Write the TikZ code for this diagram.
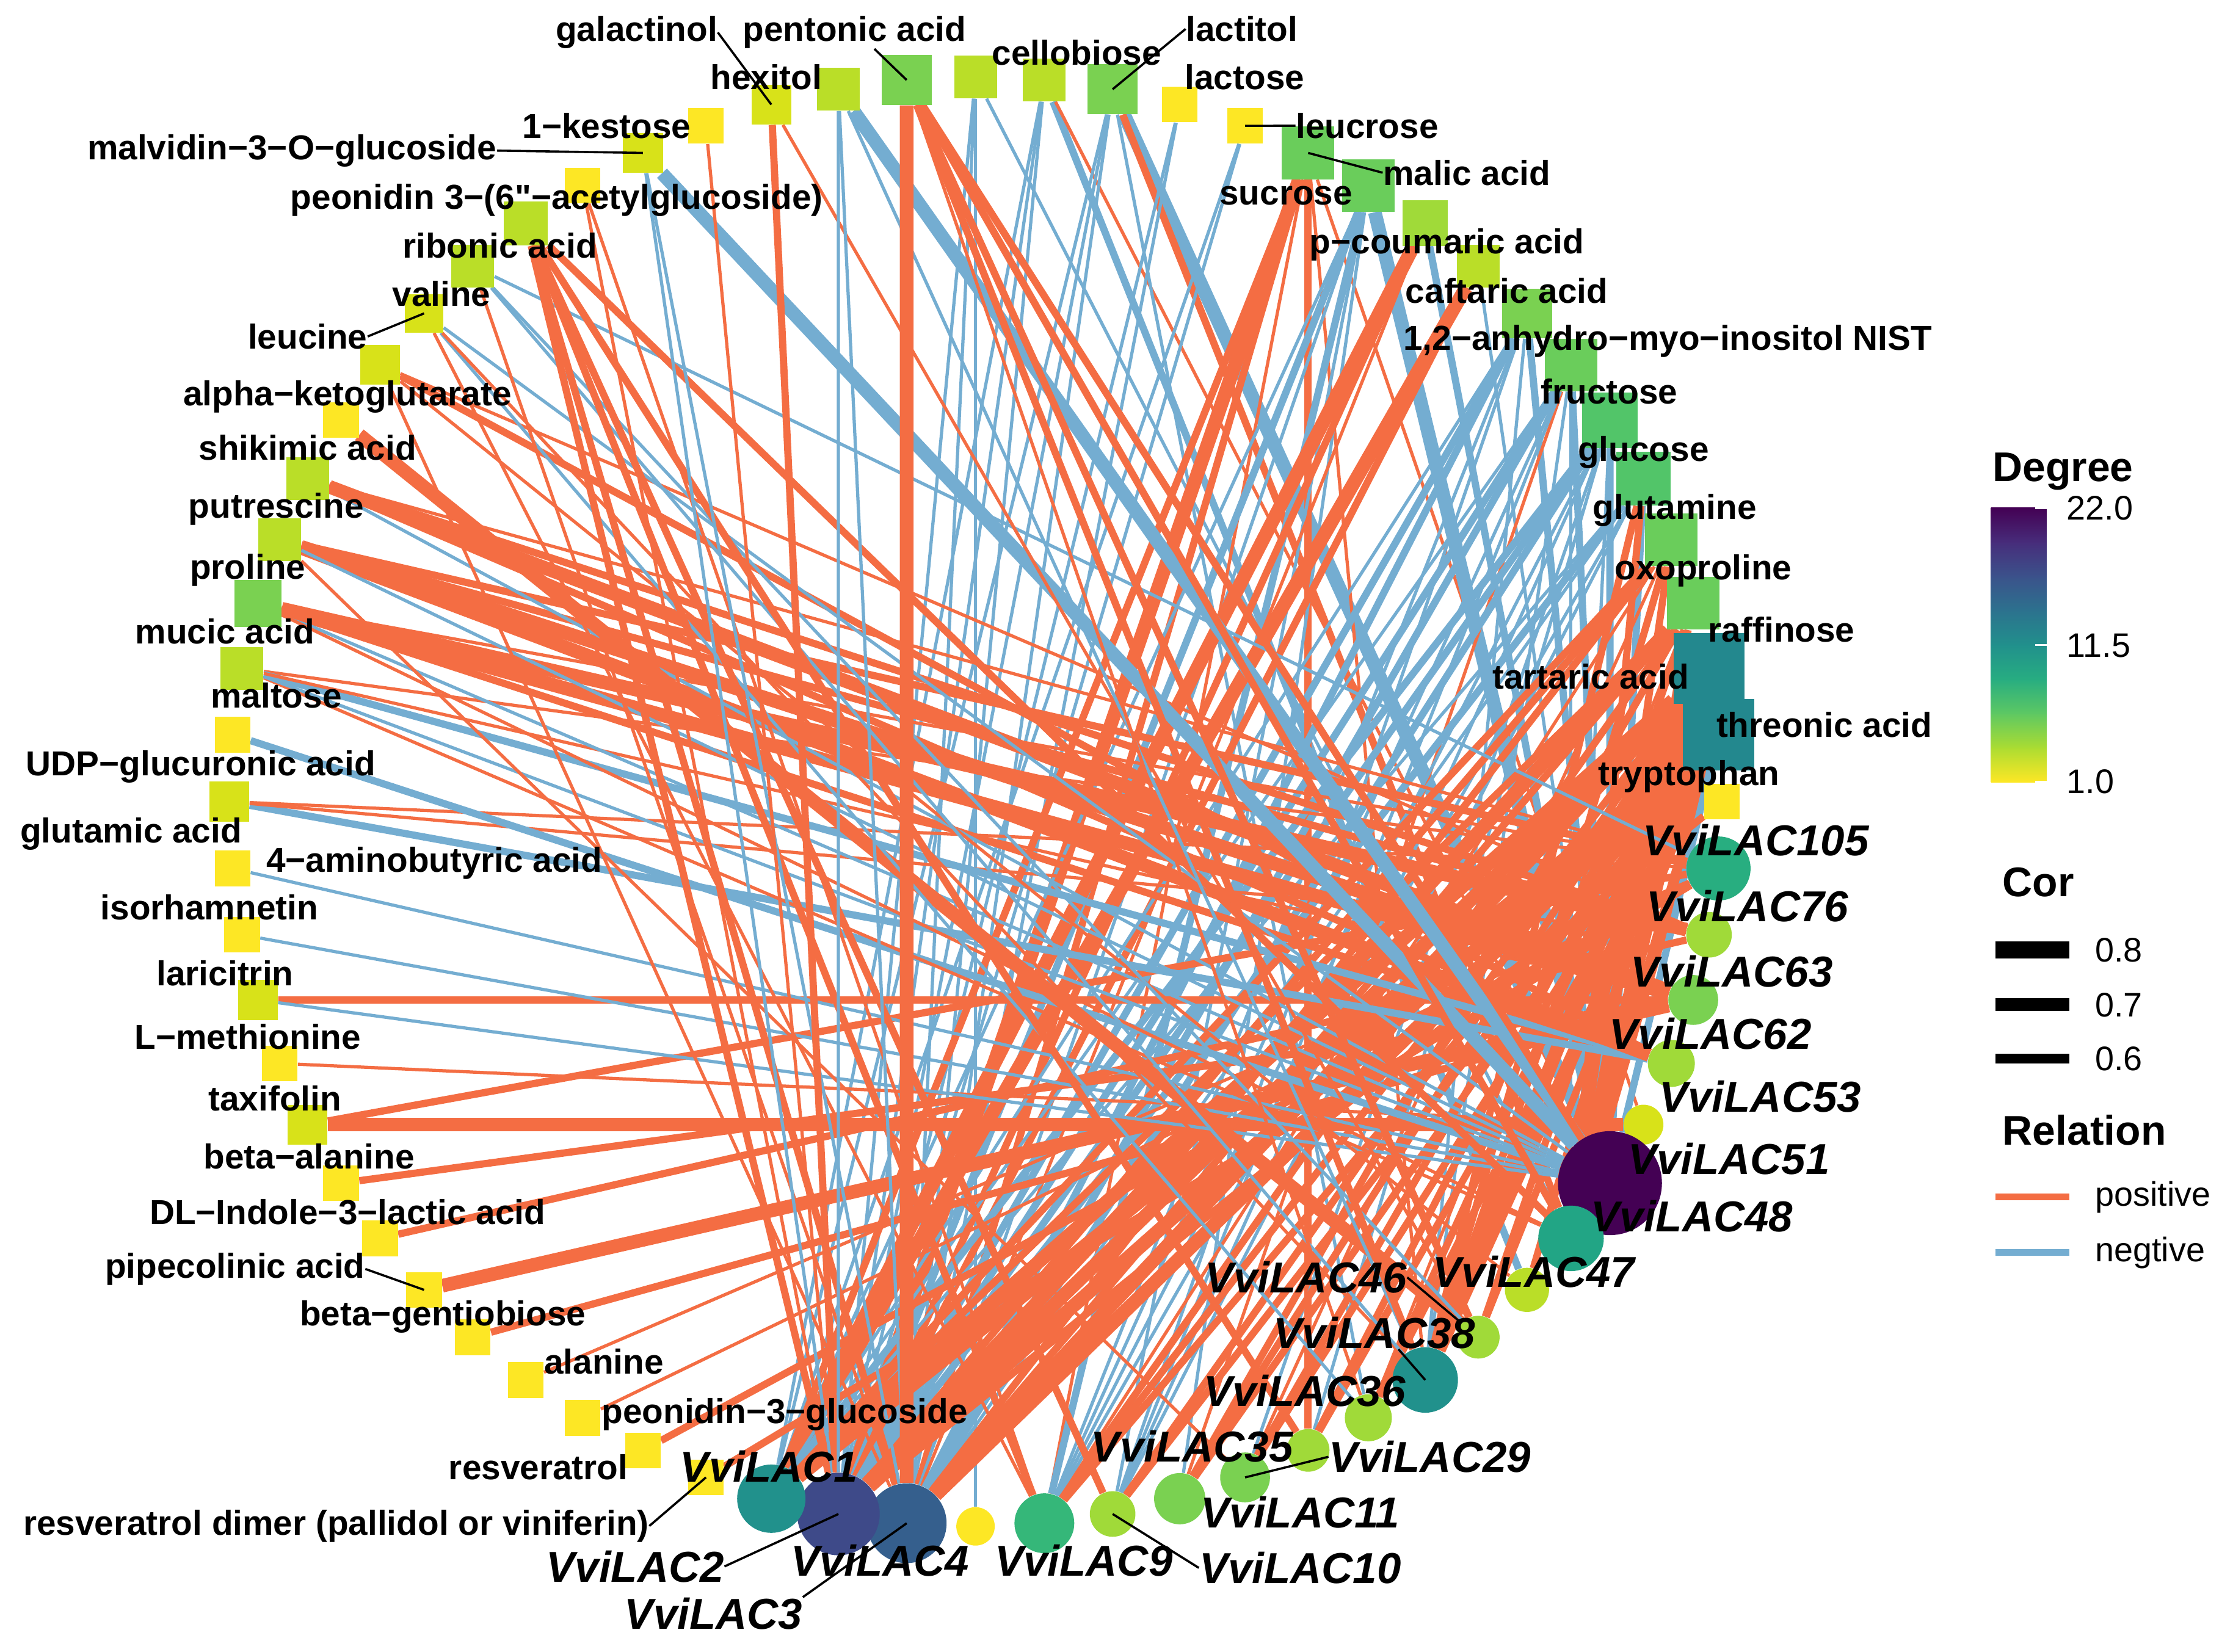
\documentclass[tikz,border=0pt]{standalone}
\usepackage{fontspec}
\setmainfont{Liberation Sans}[Ligatures=TeXOff]
\usetikzlibrary{calc}
\pgfdeclarelayer{bglayer}
\pgfdeclarelayer{edgelayer}
\pgfsetlayers{bglayer,edgelayer,main}
\definecolor{cPos}{HTML}{F46D43}
\definecolor{cNeg}{HTML}{74ADD1}
\definecolor{cY1}{HTML}{FDE725}
\definecolor{cY2}{HTML}{D8E219}
\definecolor{cY3}{HTML}{BADE28}
\definecolor{cY4}{HTML}{A0DA39}
\definecolor{cG5}{HTML}{7AD151}
\definecolor{cG6}{HTML}{6ACD5B}
\definecolor{cG7}{HTML}{52C569}
\definecolor{cG9}{HTML}{35B779}
\definecolor{cT10}{HTML}{28AE80}
\definecolor{cT12}{HTML}{22A585}
\definecolor{cT1}{HTML}{21918C}
\definecolor{cTa}{HTML}{23888E}
\definecolor{cB3}{HTML}{355F8D}
\definecolor{cB2}{HTML}{3E4A89}
\definecolor{cP}{HTML}{440154}
\definecolor{v0}{HTML}{FDE725}
\definecolor{v1}{HTML}{AADC32}
\definecolor{v2}{HTML}{5DC863}
\definecolor{v3}{HTML}{27AD81}
\definecolor{v4}{HTML}{21908C}
\definecolor{v5}{HTML}{2C728E}
\definecolor{v6}{HTML}{3B528B}
\definecolor{v7}{HTML}{472D7B}
\definecolor{v8}{HTML}{440154}
\tikzset{
  msq/.style={rectangle,inner sep=0pt,draw=none},
  gci/.style={circle,inner sep=0pt,draw=none},
  ePt/.style={cPos,line width=1.6pt},
  ePm/.style={cPos,line width=3.6pt},
  ePk/.style={cPos,line width=6.8pt},
  eNt/.style={cNeg,line width=1.6pt},
  eNm/.style={cNeg,line width=3.6pt},
  eNk/.style={cNeg,line width=6.8pt},
  mlab/.style={anchor=base,inner sep=0pt,font=\fontsize{17.3}{20}\selectfont\bfseries},
  glab/.style={anchor=base,inner sep=0pt,font=\fontsize{21.6}{26}\selectfont\bfseries\itshape},
  leader/.style={black,line width=1.1pt},
  legtitle/.style={anchor=base west,inner sep=0pt,font=\fontsize{20.7}{24}\selectfont\bfseries},
  legtext/.style={anchor=base west,inner sep=0pt,font=\fontsize{17}{20}\selectfont},
}
\begin{document}
\begin{tikzpicture}[x=0.025cm,y=-0.025cm]
\begin{pgfonlayer}{bglayer}
\fill[white] (0,0) rectangle (1568,1160);
\end{pgfonlayer}
\useasboundingbox (0,0) rectangle (1568,1160);

% ---------- nodes on the ellipse ----------
\foreach \nm/\fc/\sz/\sh [count=\i from 0] in {
 m00/cY3/30/msq, cellobiose/cY3/30/msq, lactitol/cG5/35/msq, lactose/cY1/25/msq,
 leucrose/cY1/25/msq, malic/cG6/37/msq, sucrose/cG6/37/msq, pcoumaric/cY4/32/msq,
 caftaric/cY3/30/msq, anhydro/cG5/35/msq, fructose/cG6/37/msq, glucose/cG7/39/msq,
 glutamine/cG7/38/msq, oxoproline/cG6/37/msq, raffinose/cG6/37/msq, tartaric/cTa/50/msq,
 threonic/cTa/50/msq, tryptophan/cY1/25/msq,
 LAC105/cT10/45/gci, LAC76/cY4/32/gci, LAC63/cG5/35/gci, LAC62/cY4/33/gci,
 LAC53/cY2/28/gci, LAC51/cP/73/gci, LAC48/cT12/46/gci, LAC47/cY3/31/gci,
 LAC46/cY4/30/gci, LAC38/cT1/46/gci, LAC36/cY4/33/gci, LAC11/cY4/30/gci,
 LAC29/cG5/35/gci, LAC35/cG5/36/gci, LAC10/cY4/32/gci, LAC9/cG9/42/gci,
 LAC4/cY1/27/gci, LAC3/cB3/56/gci, LAC2/cB2/58/gci, LAC1/cT1/48/gci,
 resvdimer/cY1/25/msq, resveratrol/cY1/25/msq, peonidinG/cY1/25/msq, alanine/cY1/25/msq,
 gentiobiose/cY1/25/msq, pipecolinic/cY1/25/msq, DLindole/cY1/25/msq, betaalanine/cY1/25/msq,
 taxifolin/cY2/28/msq, Lmethionine/cY1/25/msq, laricitrin/cY2/28/msq, isorhamnetin/cY1/25/msq,
 aminobutyric/cY1/25/msq, glutamic/cY2/28/msq, UDP/cY1/25/msq, maltose/cY3/30/msq,
 mucic/cG5/33/msq, proline/cY3/30/msq, putrescine/cY3/30/msq, shikimic/cY1/25/msq,
 alphaKG/cY2/28/msq, leucine/cY2/27/msq, valine/cY3/30/msq, ribonic/cY3/31/msq,
 peonidinAc/cY1/25/msq, malvidin/cY2/28/msq, kestose/cY1/25/msq, galactinol/cY2/28/msq,
 hexitol/cY3/30/msq, pentonic/cG5/35/msq}
{
  \node[\sh,fill=\fc,minimum size={\sz*0.025cm}] (\nm)
    at ({685+524*cos(90-\i*5.294118)},{563-509*sin(90-\i*5.294118)}) {};
}

% ---------- edges ----------
\begin{pgfonlayer}{edgelayer}
\foreach \a/\b/\s in {
 m00/LAC4/eNt, m00/LAC48/eNt, m00/LAC3/eNt, m00/LAC2/eNt,
 cellobiose/LAC2/eNt, cellobiose/LAC47/eNm, cellobiose/LAC51/ePt, cellobiose/LAC3/eNt, cellobiose/LAC1/eNt,
 lactitol/LAC2/eNt, lactitol/LAC3/eNt, lactitol/LAC36/eNt, lactitol/LAC51/eNk, lactitol/LAC48/ePm, lactitol/LAC1/eNt,
 lactose/LAC3/eNt, lactose/LAC2/eNt, leucrose/LAC1/eNt, leucrose/LAC2/eNt,
 malic/LAC2/ePk, malic/LAC3/ePm, malic/LAC11/ePm, malic/LAC53/ePt, malic/LAC1/ePm, malic/LAC9/ePt, malic/LAC38/ePt,
 sucrose/LAC51/eNk, sucrose/LAC9/eNm, sucrose/LAC1/eNt, sucrose/LAC2/eNm, sucrose/LAC10/eNt, sucrose/LAC3/eNt, sucrose/LAC35/eNt,
 pcoumaric/LAC1/ePk, pcoumaric/LAC2/ePm, pcoumaric/LAC51/eNm, pcoumaric/LAC3/ePt,
 caftaric/LAC1/ePk, caftaric/LAC2/ePm, caftaric/LAC51/eNt,
 anhydro/LAC51/eNm, anhydro/LAC2/eNm, anhydro/LAC3/eNm, anhydro/LAC1/eNt, anhydro/LAC9/eNt, anhydro/LAC38/eNt, anhydro/LAC10/eNt,
 fructose/LAC51/eNm, fructose/LAC2/eNm, fructose/LAC3/eNm, fructose/LAC1/eNt, fructose/LAC9/eNt, fructose/LAC38/eNt, fructose/LAC48/eNt, fructose/LAC35/ePt, fructose/LAC10/eNt,
 glucose/LAC51/eNm, glucose/LAC2/eNm, glucose/LAC3/eNm, glucose/LAC1/eNm, glucose/LAC9/eNt, glucose/LAC10/eNt, glucose/LAC48/eNt, glucose/LAC29/eNt, glucose/LAC11/eNt,
 glutamine/LAC51/eNm, glutamine/LAC2/eNm, glutamine/LAC3/eNt, glutamine/LAC1/eNt, glutamine/LAC38/ePm, glutamine/LAC48/ePm, glutamine/LAC9/eNt, glutamine/LAC10/eNt,
 oxoproline/LAC2/ePm, oxoproline/LAC3/ePm, oxoproline/LAC1/ePm, oxoproline/LAC38/ePm, oxoproline/LAC48/ePm, oxoproline/LAC9/ePt, oxoproline/LAC29/ePt,
 raffinose/LAC2/ePk, raffinose/LAC3/ePm, raffinose/LAC1/ePm, raffinose/LAC9/ePm, raffinose/LAC38/ePm, raffinose/LAC36/ePt, raffinose/LAC48/ePm, raffinose/LAC35/ePm,
 tartaric/LAC1/ePk, tartaric/LAC2/ePk, tartaric/LAC3/ePk, tartaric/LAC9/ePm, tartaric/LAC10/ePm, tartaric/LAC35/ePm, tartaric/LAC29/ePm, tartaric/LAC11/ePm, tartaric/LAC36/ePm, tartaric/LAC38/ePk, tartaric/LAC46/ePm, tartaric/LAC47/ePm, tartaric/LAC48/ePk,
 threonic/LAC1/ePk, threonic/LAC2/ePk, threonic/LAC3/ePk, threonic/LAC9/ePm, threonic/LAC10/ePm, threonic/LAC35/ePm, threonic/LAC29/ePm, threonic/LAC11/ePm, threonic/LAC36/ePm, threonic/LAC38/ePk, threonic/LAC46/ePm, threonic/LAC48/ePk, threonic/LAC51/eNm,
 tryptophan/LAC2/ePm,
 resvdimer/LAC105/ePm, resveratrol/LAC105/ePm, peonidinG/LAC105/ePt, alanine/LAC105/ePt,
 gentiobiose/LAC63/ePm, pipecolinic/LAC63/ePk, DLindole/LAC76/ePm, betaalanine/LAC63/ePm,
 taxifolin/LAC53/ePk, taxifolin/LAC105/ePm, Lmethionine/LAC53/ePt,
 laricitrin/LAC63/ePm, laricitrin/LAC51/eNt, isorhamnetin/LAC51/eNt, aminobutyric/LAC51/eNt,
 glutamic/LAC105/ePt, glutamic/LAC62/eNm, glutamic/LAC76/ePt, UDP/LAC51/eNm,
 maltose/LAC105/ePt, maltose/LAC62/eNm, maltose/LAC48/ePt, maltose/LAC51/eNt, maltose/LAC63/ePt,
 mucic/LAC76/ePk, mucic/LAC63/ePk, mucic/LAC51/eNt, mucic/LAC62/ePm, mucic/LAC105/ePt, mucic/LAC48/ePt,
 proline/LAC63/ePk, proline/LAC62/ePk, proline/LAC29/ePt, proline/LAC76/ePm, proline/LAC51/eNt, proline/LAC105/ePm,
 putrescine/LAC76/ePm, putrescine/LAC62/ePm, putrescine/LAC105/ePt, putrescine/LAC51/eNt, putrescine/LAC63/ePk,
 shikimic/LAC46/ePk,
 alphaKG/LAC62/ePm, alphaKG/LAC47/ePt, alphaKG/LAC76/ePt, alphaKG/LAC3/ePt,
 leucine/LAC36/eNt, leucine/LAC38/ePt, leucine/LAC51/eNt, leucine/LAC9/ePt,
 valine/LAC38/eNt, valine/LAC105/eNt, valine/LAC46/eNt, valine/LAC3/ePt,
 ribonic/LAC9/ePm, ribonic/LAC11/ePm, ribonic/LAC48/ePm, ribonic/LAC3/ePm, ribonic/LAC2/ePm, ribonic/LAC10/ePm,
 peonidinAc/LAC9/ePt, peonidinAc/LAC2/ePt,
 malvidin/LAC51/eNk, malvidin/LAC3/eNt, malvidin/LAC2/eNt,
 kestose/LAC2/ePt,
 galactinol/LAC46/ePt, galactinol/LAC2/ePm,
 hexitol/LAC3/eNt, hexitol/LAC51/eNk, hexitol/LAC38/eNt, hexitol/LAC2/eNt,
 pentonic/LAC3/ePk, pentonic/LAC36/ePt, pentonic/LAC38/ePm, pentonic/LAC46/ePm, pentonic/LAC51/ePm, pentonic/LAC48/ePm}
{
  \draw[\s] (\a) -- (\b);
}
\end{pgfonlayer}

% ---------- metabolite labels ----------
\foreach \nm/\x/\y/\t in {
 galactinol/447/29/galactinol, pentonic/600/29/pentonic acid, hexitol/538/63/hexitol,
 cellobiose/756/45.5/cellobiose, lactitol/872/29/lactitol, lactose/874/63/lactose,
 leucrose/960/97/leucrose, malic/1030/130/malic acid, sucrose/903/144/sucrose,
 pcoumaric/1016/178/p−coumaric acid, caftaric/1058/213/caftaric acid,
 anhydro/1171/246/1{,}2−anhydro−myo−inositol NIST, fructose/1130/283.5/fructose,
 glucose/1154/324/glucose, glutamine/1176/364.6/glutamine, oxoproline/1196/407/oxoproline,
 raffinose/1251/450.7/raffinose, tartaric/1117/484/tartaric acid, threonic/1281/517.7/threonic acid,
 tryptophan/1186/551.7/tryptophan, kestose/426/97/1−kestose,
 malvidin/205/112/malvidin−3−O−glucoside, peonidinAc/391/147/peonidin 3−(6"−acetylglucoside),
 ribonic/351/181/ribonic acid, valine/310/215/valine, leucine/216/245/leucine,
 alphaKG/244/285/alpha−ketoglutarate, shikimic/216/323/shikimic acid, putrescine/194/364/putrescine,
 proline/174/406.5/proline, mucic/158/452/mucic acid, maltose/194/497/maltose,
 UDP/141/544.6/UDP−glucuronic acid, glutamic/92/592/glutamic acid,
 aminobutyric/305/612.6/4−aminobutyric acid, isorhamnetin/147/646/isorhamnetin,
 laricitrin/158/692.4/laricitrin, Lmethionine/174/737/L−methionine, taxifolin/193/780/taxifolin,
 betaalanine/217/821/beta−alanine, DLindole/244/860/DL−Indole−3−lactic acid,
 pipecolinic/165/897.5/pipecolinic acid, gentiobiose/311/931/beta−gentiobiose,
 alanine/424/965/alanine, peonidinG/551/999.6/peonidin−3−glucoside,
 resveratrol/378/1039/resveratrol, resvdimer/236/1078/resveratrol dimer (pallidol or viniferin)}
{
  \node[mlab] (l-\nm) at (\x,\y) {\t};
}

% ---------- gene labels ----------
\foreach \nm/\x/\y in {
 LAC105/1233/601, LAC76/1227/647, LAC63/1216/693, LAC62/1201/737, LAC53/1236/781,
 LAC51/1214/824.6, LAC48/1188/865, LAC47/1077/904, LAC46/917/908, LAC38/965/947,
 LAC36/916/987.6, LAC35/837/1026.6, LAC29/1004/1034, LAC11/913/1073, LAC10/913/1112,
 LAC9/761/1107, LAC4/618/1107, LAC3/501/1144, LAC2/446/1111, LAC1/540/1041}
{
  \node[glab] (l-\nm) at (\x,\y) {Vvi\nm};
}

% ---------- leader lines ----------
\draw[leader] (l-galactinol.east) -- (galactinol.center);
\draw[leader] ($(l-pentonic.south)+(14,0)$) -- (pentonic.center);
\draw[leader] (l-lactitol.west) -- (lactitol.center);
\draw[leader] (leucrose.center) -- (l-leucrose.west);
\draw[leader] (malic.center) -- (l-malic.west);
\draw[leader] (l-malvidin.east) -- (malvidin.center);
\draw[leader] (l-leucine.east) -- (leucine.center);
\draw[leader] (l-pipecolinic.east) -- (pipecolinic.center);
\draw[leader] (l-resvdimer.east) -- (resvdimer.center);
\draw[leader] (l-LAC46.east) -- (LAC46);
\draw[leader] ($(l-LAC38.south)+(17,0)$) -- (LAC38.center);
\draw[leader] (LAC29.center) -- (l-LAC29.west);
\draw[leader] (LAC10.center) -- (l-LAC10.west);
\draw[leader] (LAC3.center) -- (l-LAC3.north east);
\draw[leader] (LAC2.center) -- (l-LAC2.east);

% ---------- legend ----------
\node[legtitle] (t-degree) at (1399,338) {Degree};
\foreach \k [count=\j from 0] in {1,2,3,4,5,6,7,8}{
  \pgfmathtruncatemacro{\kk}{\k-1}
  \shade[bottom color=v\kk, top color=v\k]
    (1398,{549-\j*24+0.4}) rectangle (1437,{549-(\j+1)*24-0.4});
}
\foreach \yy in {357,453,549}{
  \draw[white,line width=0.8pt] (1429,\yy) -- (1437,\yy);
}
\node[legtext] (t-22) at (1451,365) {22.0};
\node[legtext] (t-115) at (1451,461.6) {11.5};
\node[legtext] (t-1) at (1451,557) {1.0};

\node[legtitle] (t-cor) at (1406,629.5) {Cor};
\draw[black,line width=8.5pt] (1401,667) -- (1453,667);
\draw[black,line width=6.4pt] (1401,705.6) -- (1453,705.6);
\draw[black,line width=4.8pt] (1401,743.5) -- (1453,743.5);
\node[legtext] (t-08) at (1471,675.6) {0.8};
\node[legtext] (t-07) at (1471,714) {0.7};
\node[legtext] (t-06) at (1471,752) {0.6};

\node[legtitle] (t-rel) at (1406,804) {Relation};
\draw[cPos,line width=3.5pt] (1401,840.5) -- (1453,840.5);
\draw[cNeg,line width=3.5pt] (1401,879.5) -- (1453,879.5);
\node[legtext] (t-pos) at (1471,847) {positive};
\node[legtext] (t-neg) at (1471,886) {negtive};
\end{tikzpicture}
\end{document}
